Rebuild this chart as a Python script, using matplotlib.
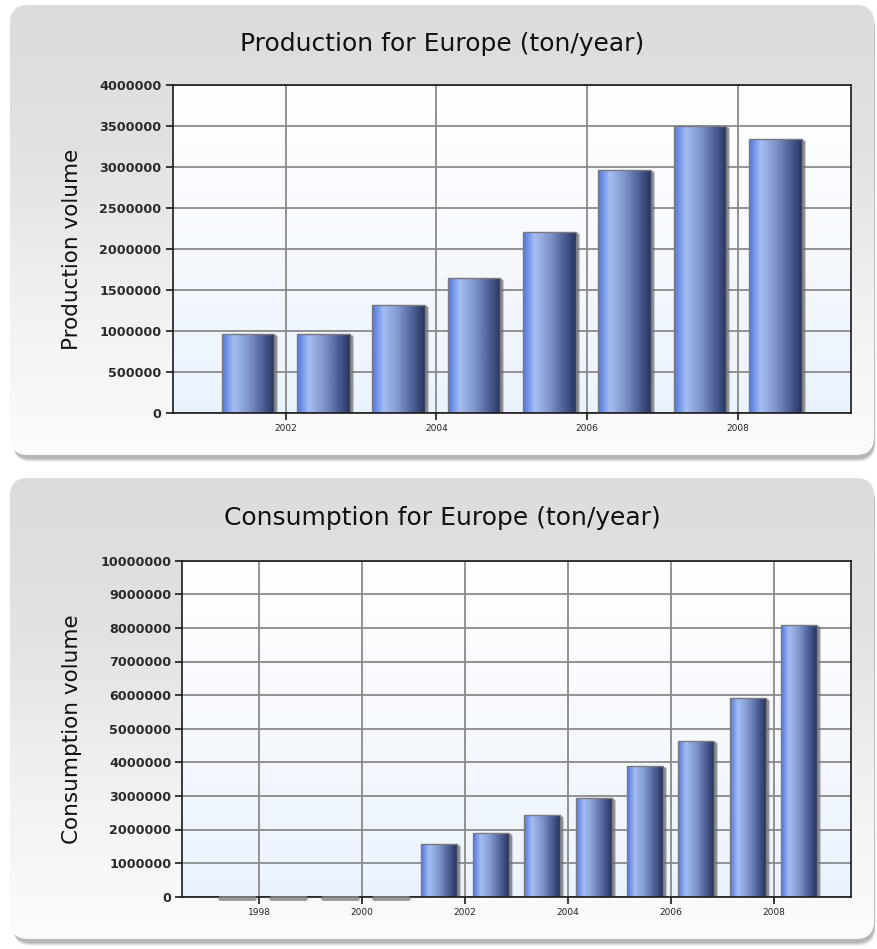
import numpy as np
import matplotlib
matplotlib.use('Agg')
import matplotlib.pyplot as plt
from matplotlib.patches import FancyBboxPatch, Rectangle
from matplotlib.colors import LinearSegmentedColormap
from matplotlib import transforms

# production data (bars centred mid-year)
prod_years = [2001, 2002, 2003, 2004, 2005, 2006, 2007, 2008]
prod_values = [960000, 960000, 1317000, 1645000, 2205000, 2963000, 3500000, 3340000]
prod_xticks = [2002, 2004, 2006, 2008]
prod_yticks = [0, 500000, 1000000, 1500000, 2000000, 2500000, 3000000, 3500000, 4000000]

# consumption data
cons_years = [1997, 1998, 1999, 2000, 2001, 2002, 2003, 2004, 2005, 2006, 2007, 2008]
cons_values = [0, 0, 0, 0, 1570000, 1890000, 2430000, 2930000, 3890000, 4640000, 5900000, 8090000]
cons_xticks = [1998, 2000, 2002, 2004, 2006, 2008]
cons_yticks = list(range(0, 10000001, 1000000))

W, H = 878, 949
fig = plt.figure(figsize=(W / 100, H / 100), dpi=100)
fig.patch.set_facecolor('white')

# background layer in pixel coords
bg = fig.add_axes([0, 0, 1, 1])
bg.set_xlim(0, W)
bg.set_ylim(H, 0)
bg.axis('off')

panel_grad = LinearSegmentedColormap.from_list('pg', ['#dcdcdc', '#e2e2e2', '#f1f1f1', '#fcfcfc'])
bar_cmap = LinearSegmentedColormap.from_list(
    'bar', [(0, '#4e74e2'), (0.22, '#a5bdf2'), (0.5, '#8197cb'), (0.78, '#4c5e95'), (1, '#27345e')])
plot_bg = LinearSegmentedColormap.from_list('pb', ['#ffffff', '#f6f9fe', '#eaf3fd'])


def panel(x0, y0, x1, y1):
    r = 18
    for i, a in enumerate([0.08, 0.10, 0.14, 0.18]):
        d = 5 - i
        sh = FancyBboxPatch((x0 + 2 + d * 0.3, y0 + 2 + d), x1 - x0 - 2, y1 - y0,
                            boxstyle='round,pad=0,rounding_size=%d' % r,
                            fc='#555555', ec='none', alpha=a, zorder=0)
        bg.add_patch(sh)
    box = FancyBboxPatch((x0, y0), x1 - x0, y1 - y0,
                         boxstyle='round,pad=0,rounding_size=%d' % r,
                         fc='none', ec='none', zorder=1)
    bg.add_patch(box)
    g = np.linspace(0, 1, 256).reshape(-1, 1)
    im = bg.imshow(g, cmap=panel_grad, extent=[x0, x1, y1, y0], aspect='auto',
                   interpolation='bicubic', zorder=1)
    im.set_clip_path(box)


panel(10, 5, 874, 455)
panel(10, 478, 874, 939)
bg.set_xlim(0, W)
bg.set_ylim(H, 0)


def draw_chart(rect, years, values, xticks, yticks, xlim, title, ylabel, title_y, ylab_x):
    ax = fig.add_axes(rect)
    ax.set_facecolor('none')
    g = np.linspace(0, 1, 256).reshape(-1, 1)
    ax.imshow(g, cmap=plot_bg, extent=[0, 1, 0, 1], transform=ax.transAxes,
              aspect='auto', zorder=0)
    grad = np.linspace(0, 1, 256).reshape(1, -1)
    bw = 0.7
    for yr, v in zip(years, values):
        x0 = yr + 0.5 - bw / 2
        if v > 0:
            for k, a in enumerate([0.28, 0.38]):
                off = transforms.ScaledTranslation((3 - k) / 100, -(3 - k) / 100, fig.dpi_scale_trans)
                ax.add_patch(Rectangle((x0, 0), bw, v, fc='#666666', ec='#666666', lw=1.5,
                                       alpha=a, transform=ax.transData + off, zorder=2))
            ax.imshow(grad, cmap=bar_cmap, extent=[x0, x0 + bw, 0, v], aspect='auto',
                      interpolation='bicubic', zorder=3)
            ax.add_patch(Rectangle((x0, 0), bw, v, fc='none', ec='#7a7a7a', lw=1.0, zorder=4))
        else:
            # empty year: only the flat shadow shows along the baseline
            off = transforms.ScaledTranslation(2 / 100, -1 / 100, fig.dpi_scale_trans)
            ax.plot([x0 + 0.04, x0 + bw], [0, 0], color='#888888', lw=3.5, alpha=0.85,
                    solid_capstyle='round', transform=ax.transData + off, zorder=6,
                    clip_on=False)
    ax.set_xlim(*xlim)
    ax.set_ylim(yticks[0], yticks[-1])
    ax.set_xticks(xticks)
    ax.set_yticks(yticks)
    ax.set_xticklabels([str(t) for t in xticks], fontsize=6.5, color='#222222')
    ax.set_yticklabels([str(t) for t in yticks], fontsize=9.2, fontweight='bold', color='#2a2a2a')
    ax.grid(True, color='#8a8a8a', lw=1.3, zorder=1)
    ax.set_axisbelow(True)
    for s in ax.spines.values():
        s.set_color('#1a1a1a')
        s.set_linewidth(1.2)
        s.set_zorder(5)
    ax.tick_params(axis='both', length=5, width=1.2, color='#1a1a1a', pad=3)
    fig.text(0.5 * (10 + 874) / W, 1 - title_y / H, title, ha='center', va='center',
             fontsize=18, color='#111111')
    fig.text(ylab_x / W, rect[1] + rect[3] / 2, ylabel, rotation=90, ha='center', va='center',
             fontsize=15.5, color='#111111')
    return ax


draw_chart([172.7 / W, 536 / H, 678 / W, 328 / H], prod_years, prod_values, prod_xticks,
           prod_yticks, (2000.5, 2009.5), 'Production for Europe (ton/year)',
           'Production volume', 44, 72)
draw_chart([182.3 / W, 52.3 / H, 668.4 / W, 336 / H], cons_years, cons_values, cons_xticks,
           cons_yticks, (1996.5, 2009.5), 'Consumption for Europe (ton/year)',
           'Consumption volume', 518, 72)

fig.savefig('out.png', dpi=100)
